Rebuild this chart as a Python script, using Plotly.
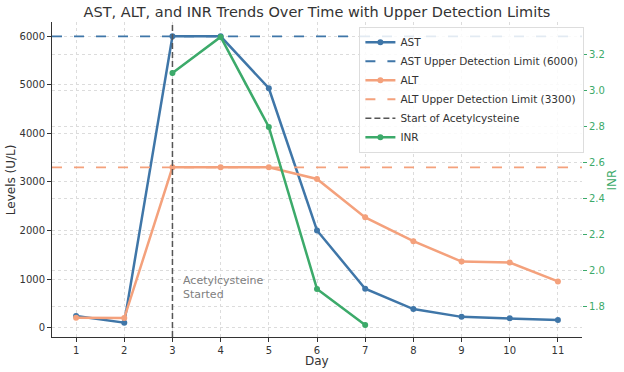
import plotly.graph_objects as go

days = [1, 2, 3, 4, 5, 6, 7, 8, 9, 10, 11]
ast = [240, 100, 6000, 6000, 4930, 2000, 800, 380, 220, 190, 155]
alt = [200, 195, 3300, 3300, 3300, 3060, 2270, 1780, 1360, 1340, 950]
inr_days = [3, 4, 5, 6, 7]
inr = [3.1, 3.3, 2.8, 1.9, 1.7]
ast_limit = 6000
alt_limit = 3300
nac_day = 3

x_range = [0.5, 11.5]
y_range = [-195, 6295]
y2_range = [1.633, 3.383]

BLUE = "#3f76a8"
SALMON = "#f4a17c"
GREEN = "#3caa6a"
GRAY = "#555555"
FONT = "DejaVu Sans"

fig = go.Figure()
fig.add_trace(go.Scatter(x=days, y=ast, mode="lines+markers", name="AST",
                         line=dict(color=BLUE, width=2.5), marker=dict(size=6, color=BLUE)))
fig.add_trace(go.Scatter(x=x_range, y=[ast_limit, ast_limit], mode="lines",
                         name="AST Upper Detection Limit (6000)",
                         line=dict(color=BLUE, width=1.8, dash="10px,12px")))
fig.add_trace(go.Scatter(x=days, y=alt, mode="lines+markers", name="ALT",
                         line=dict(color=SALMON, width=2.5), marker=dict(size=6, color=SALMON)))
fig.add_trace(go.Scatter(x=x_range, y=[alt_limit, alt_limit], mode="lines",
                         name="ALT Upper Detection Limit (3300)",
                         line=dict(color=SALMON, width=1.8, dash="10px,12px")))
fig.add_trace(go.Scatter(x=[nac_day, nac_day], y=y_range, mode="lines",
                         name="Start of Acetylcysteine",
                         line=dict(color=GRAY, width=1.5, dash="6px,3px")))
fig.add_trace(go.Scatter(x=inr_days, y=inr, mode="lines+markers", name="INR", yaxis="y2",
                         line=dict(color=GREEN, width=2.5), marker=dict(size=6, color=GREEN)))

fig.add_annotation(x=nac_day + 0.17, y=820, text="Acetylcysteine<br>Started",
                   showarrow=False, xanchor="left", yanchor="middle", align="left",
                   font=dict(family=FONT, size=11, color="#808080"))

# axis titles placed as annotations for exact positioning
fig.add_annotation(text="Levels (U/L)", xref="paper", yref="paper", x=-0.078, y=0.5,
                   textangle=-90, showarrow=False, xanchor="center", yanchor="middle",
                   font=dict(family=FONT, size=12, color="#333333"))
fig.add_annotation(text="Day", xref="paper", yref="paper", x=0.5, y=-0.076,
                   showarrow=False, xanchor="center", yanchor="middle",
                   font=dict(family=FONT, size=12, color="#333333"))
fig.add_annotation(text="INR", xref="paper", yref="paper", x=1.0566, y=0.5,
                   textangle=-90, showarrow=False, xanchor="center", yanchor="middle",
                   font=dict(family=FONT, size=12, color=GREEN))

grid = dict(showgrid=True, gridcolor="#dcdcdc", griddash="dot", gridwidth=1)
fig.update_layout(
    width=624, height=372,
    margin=dict(l=52, r=42, t=22, b=35),
    paper_bgcolor="white", plot_bgcolor="white",
    font=dict(family=FONT, size=11, color="#333333"),
    title=dict(text="AST, ALT, and INR Trends Over Time with Upper Detection Limits",
               x=0.508, xanchor="center", y=0.968, yanchor="middle",
               font=dict(family=FONT, size=14.5, color="#333333")),
    xaxis=dict(range=x_range, tickmode="array", tickvals=days, ticks="outside",
               ticklen=4, tickcolor="#333333", showline=True, linecolor="#333333",
               tickfont=dict(size=10), automargin=False, zeroline=False, **grid),
    yaxis=dict(range=y_range, tickvals=[0, 1000, 2000, 3000, 4000, 5000, 6000],
               ticks="outside", ticklen=4, tickcolor="#333333", showline=True,
               tickfont=dict(size=10),
               linecolor="#333333", zeroline=False, automargin=False, **grid),
    yaxis2=dict(range=y2_range, overlaying="y", side="right", dtick=0.2, tick0=1.8,
                ticks="outside", ticklen=4, tickcolor=GREEN, tickformat=".1f",
                tickfont=dict(color=GREEN, size=10), showline=False, zeroline=False,
                automargin=False, **grid),
    legend=dict(x=0.58, y=0.985, xanchor="left", yanchor="top",
                bgcolor="rgba(255,255,255,0.85)", bordercolor="#dddddd", borderwidth=1,
                font=dict(size=10.5, color="#333333"), tracegroupgap=0,
                itemwidth=30),
    showlegend=True,
)

fig.write_html("out.html", config={"displayModeBar": False},
               post_script="document.body.style.margin='0';")
